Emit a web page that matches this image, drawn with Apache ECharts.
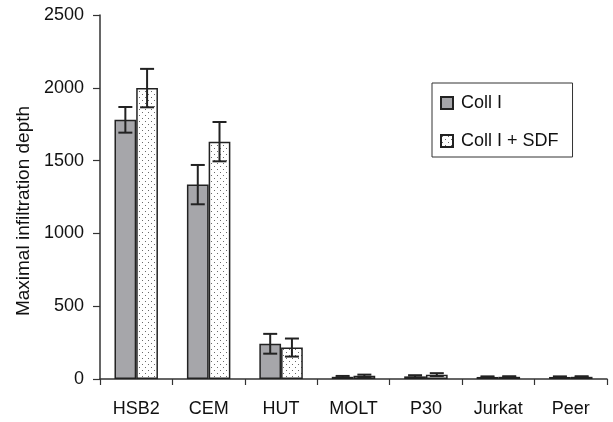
<!DOCTYPE html>
<html>
<head>
<meta charset="utf-8">
<script src="https://cdn.jsdelivr.net/npm/echarts@6/dist/echarts.min.js"></script>
<style>html,body{margin:0;padding:0;background:#fff;}#c{width:613px;height:422px;}</style>
</head>
<body>
<div id="c"></div>
<script>
var categories = ['HSB2', 'CEM', 'HUT', 'MOLT', 'P30', 'Jurkat', 'Peer'];
var collI = [1780, 1335, 242, 15, 18, 14, 14];
var collIErr = [88, 135, 68, 6, 8, 4, 4];
var collISdf = [1998, 1630, 216, 22, 30, 15, 15];
var collISdfErr = [132, 135, 62, 8, 10, 4, 4];
var yTicks = [0, 500, 1000, 1500, 2000, 2500];

var FONT = 'Liberation Sans, Arial, sans-serif';

// dotted fill pattern
var pat = document.createElement('canvas');
pat.width = 6; pat.height = 6;
var pc = pat.getContext('2d');
pc.fillStyle = '#ffffff'; pc.fillRect(0, 0, 6, 6);
pc.fillStyle = '#6a6a6a';
pc.fillRect(1, 1, 1, 1);
pc.fillRect(4, 4, 1, 1);

function errData(vals, errs) {
  return vals.map(function (v, i) { return [i, v - errs[i], v + errs[i]]; });
}

function makeErr(side) {
  return function (params, api) {
    var idx = api.value(0);
    var lo = api.coord([idx, api.value(1)]);
    var hi = api.coord([idx, api.value(2)]);
    var w = api.size([1, 0])[0];
    var x = lo[0] + side * w * 0.15;
    var cap = 7;
    var st = { stroke: '#222', lineWidth: 2 };
    return {
      type: 'group',
      children: [
        { type: 'line', shape: { x1: x, y1: lo[1], x2: x, y2: hi[1] }, style: st },
        { type: 'line', shape: { x1: x - cap, y1: lo[1], x2: x + cap, y2: lo[1] }, style: st },
        { type: 'line', shape: { x1: x - cap, y1: hi[1], x2: x + cap, y2: hi[1] }, style: st }
      ]
    };
  };
}

var chart = echarts.init(document.getElementById('c'));
chart.setOption({
  animation: false,
  backgroundColor: '#fff',
  grid: { left: 100, right: 6, top: 15, bottom: 43 },
  legend: {
    orient: 'vertical',
    left: 432, top: 83,
    padding: [11, 14, 7, 8],
    itemGap: 20,
    itemWidth: 12, itemHeight: 12,
    borderColor: '#333', borderWidth: 1,
    icon: 'rect',
    textStyle: { fontFamily: FONT, fontSize: 18, color: '#111', padding: [0, 0, 0, 3] },
    data: ['Coll I', 'Coll I + SDF']
  },
  xAxis: {
    type: 'category',
    data: categories,
    axisLine: { lineStyle: { color: '#333', width: 1.5 } },
    axisTick: { show: true, length: 6, lineStyle: { color: '#333', width: 1.2 } },
    axisLabel: { fontFamily: FONT, fontSize: 18, color: '#111', margin: 21 }
  },
  yAxis: {
    type: 'value',
    min: 0, max: 2500, interval: 500,
    name: 'Maximal infiltration depth',
    nameLocation: 'middle',
    nameGap: 63,
    nameTextStyle: { fontFamily: FONT, fontSize: 19, color: '#111', padding: [0, 28, 0, 0] },
    splitLine: { show: false },
    axisLine: { show: true, lineStyle: { color: '#333', width: 1.5 } },
    axisTick: { show: true, length: 7, lineStyle: { color: '#333', width: 1.2 } },
    axisLabel: {
      fontFamily: FONT, fontSize: 18, color: '#111', margin: 16,
      formatter: function (v) { return yTicks.indexOf(v) >= 0 ? String(v) : ''; }
    }
  },
  series: [
    {
      name: 'Coll I', type: 'bar', data: collI,
      barGap: '0%', barCategoryGap: '40%',
      itemStyle: { color: '#a6a6aa', borderColor: '#222', borderWidth: 1.5 }
    },
    {
      name: 'Coll I + SDF', type: 'bar', data: collISdf,
      barGap: '0%', barCategoryGap: '40%',
      itemStyle: { color: { image: pat, repeat: 'repeat' }, borderColor: '#222', borderWidth: 1.5 }
    },
    {
      type: 'custom', renderItem: makeErr(-1), data: errData(collI, collIErr),
      encode: { x: 0, y: [1, 2] }, z: 10, silent: true
    },
    {
      type: 'custom', renderItem: makeErr(1), data: errData(collISdf, collISdfErr),
      encode: { x: 0, y: [1, 2] }, z: 10, silent: true
    }
  ]
});
</script>
</body>
</html>
